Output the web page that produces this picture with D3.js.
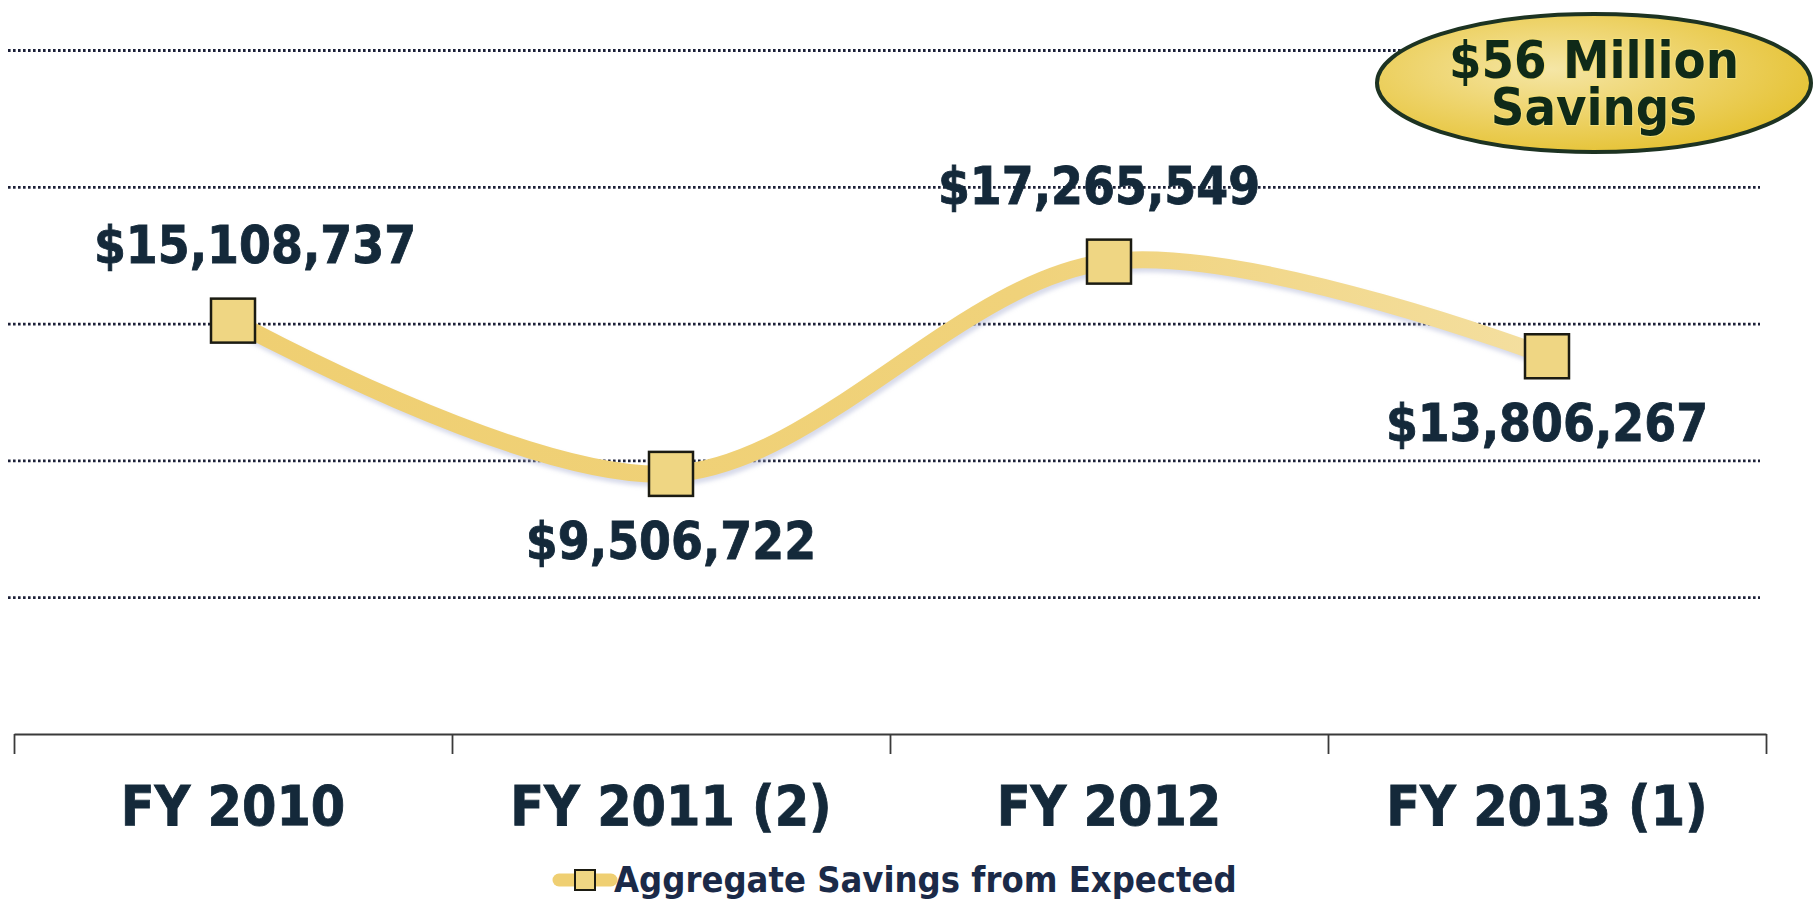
<!DOCTYPE html>
<html>
<head>
<meta charset="utf-8">
<script src="https://cdn.jsdelivr.net/npm/d3@7"></script>
<style>
  body { margin: 0; background: #ffffff; }
  svg text { font-family: "DejaVu Sans Condensed", "DejaVu Sans", sans-serif; font-weight: bold; font-stretch: condensed; }
</style>
</head>
<body>
<div id="chart"></div>
<script>
// data
const categories = ["FY 2010", "FY 2011 (2)", "FY 2012", "FY 2013 (1)"];
const savings = [15108737, 9506722, 17265549, 13806267];
const gridValues = [5000000, 10000000, 15000000, 20000000, 25000000];
const legendLabel = "Aggregate Savings from Expected";
const calloutLines = ["$56 Million", "Savings"];

const W = 1816, H = 904;
const labelColor = "#14293a";
const lineColor = "#efcf72";

const svg = d3
  .select("#chart")
  .append("svg")
  .attr("width", W)
  .attr("height", H);

const defs = svg.append("defs");
defs
  .append("filter")
  .attr("id", "soft")
  .append("feGaussianBlur")
  .attr("stdDeviation", 2);

const lineGrad = defs
  .append("linearGradient")
  .attr("id", "lineGrad")
  .attr("x1", "0%")
  .attr("x2", "100%");
lineGrad.append("stop").attr("offset", "0%").attr("stop-color", "#efcf72");
lineGrad.append("stop").attr("offset", "60%").attr("stop-color", "#f0d27a");
lineGrad.append("stop").attr("offset", "100%").attr("stop-color", "#f4dfa0");

const ovalGrad = defs
  .append("radialGradient")
  .attr("id", "ovalGrad")
  .attr("cx", "40%")
  .attr("cy", "40%")
  .attr("r", "65%");
ovalGrad.append("stop").attr("offset", "0%").attr("stop-color", "#f5e6a6");
ovalGrad.append("stop").attr("offset", "55%").attr("stop-color", "#edd266");
ovalGrad.append("stop").attr("offset", "100%").attr("stop-color", "#e5c233");

// scales
const x = d3.scaleBand().domain(categories).range([14, 1766]).padding(0);
const y = d3.scaleLinear().domain([0, 25000000]).range([734, 50]);
const edge = d3.scaleLinear().domain([0, categories.length]).range([14, 1766]);

// dotted gridlines
const grid = svg
  .append("g")
  .attr("transform", "translate(8,0)")
  .call(d3.axisRight(y).tickValues(gridValues).tickSize(1752).tickFormat(""));
grid.select(".domain").remove();
grid
  .selectAll(".tick line")
  .attr("stroke", "#1c2038")
  .attr("stroke-width", 2.8)
  .attr("stroke-dasharray", "2.6,2.4");

// bottom axis line + ticks at category edges
const axisG = svg
  .append("g")
  .attr("transform", "translate(0," + y(0) + ")")
  .call(
    d3
      .axisBottom(edge)
      .tickValues(d3.range(categories.length + 1))
      .tickSize(20)
      .tickSizeOuter(0)
      .tickFormat("")
  );
axisG.select(".domain").attr("stroke", "#3a3a3a").attr("stroke-width", 1.8);
axisG.selectAll(".tick line").attr("stroke", "#3a3a3a").attr("stroke-width", 1.8);

// category labels
const catG = svg
  .append("g")
  .attr("transform", "translate(0," + y(0) + ")")
  .call(d3.axisBottom(x).tickSize(0).tickPadding(52));
catG.select(".domain").remove();
catG
  .selectAll("text")
  .attr("font-size", 55)
  .attr("fill", labelColor)
  .attr("stroke", labelColor)
  .attr("stroke-width", 0.8)
  .style("font-family", null);

// smoothed line
const cx = (d, i) => x(categories[i]) + x.bandwidth() / 2;
const line = d3
  .line()
  .x(cx)
  .y((d) => y(d))
  .curve(d3.curveCatmullRom.alpha(0.5));

svg
  .append("path")
  .datum(savings)
  .attr("fill", "none")
  .attr("stroke", "#a7aed0")
  .attr("stroke-opacity", 0.45)
  .attr("stroke-width", 17)
  .attr("transform", "translate(2,4)")
  .attr("filter", "url(#soft)")
  .attr("d", line);

svg
  .append("path")
  .datum(savings)
  .attr("fill", "none")
  .attr("stroke", "url(#lineGrad)")
  .attr("stroke-width", 17)
  .attr("d", line);

// markers
const mSize = 44;
svg
  .selectAll("rect.marker")
  .data(savings)
  .enter()
  .append("rect")
  .attr("class", "marker")
  .attr("x", (d, i) => cx(d, i) - mSize / 2)
  .attr("y", (d) => y(d) - mSize / 2)
  .attr("width", mSize)
  .attr("height", mSize)
  .attr("fill", "#efd683")
  .attr("stroke", "#1b1b12")
  .attr("stroke-width", 2.5);

// value labels: above a local high, below a local low
const labelDx = [22, 0, -10, 0];
const isAbove = (d, i) => {
  const nb = [savings[i - 1], savings[i + 1]].filter((v) => v !== undefined);
  return d > d3.mean(nb);
};
svg
  .selectAll("text.value")
  .data(savings)
  .enter()
  .append("text")
  .attr("class", "value")
  .attr("x", (d, i) => cx(d, i) + labelDx[i])
  .attr("y", (d, i) => y(d) + (isAbove(d, i) ? -58 : 85))
  .attr("text-anchor", "middle")
  .attr("font-size", 51)
  .attr("fill", labelColor)
  .attr("stroke", labelColor)
  .attr("stroke-width", 0.8)
  .text((d) => d3.format("$,")(d));

// callout oval
const oval = svg.append("g").attr("transform", "translate(1594,83)");
oval
  .append("ellipse")
  .attr("rx", 217)
  .attr("ry", 69)
  .attr("fill", "url(#ovalGrad)")
  .attr("stroke", "#1d3322")
  .attr("stroke-width", 4);
oval
  .selectAll("text")
  .data(calloutLines)
  .enter()
  .append("text")
  .attr("text-anchor", "middle")
  .attr("y", (d, i) => -5 + i * 47)
  .attr("font-size", 52)
  .attr("fill", "#0f2a18")
  .attr("stroke", "#f4df78")
  .attr("stroke-width", 2)
  .attr("paint-order", "stroke")
  .text((d) => d);

// legend
const leg = svg.append("g").attr("transform", "translate(559,880)");
leg
  .append("line")
  .attr("x1", 0)
  .attr("x2", 52)
  .attr("stroke", lineColor)
  .attr("stroke-width", 13)
  .attr("stroke-linecap", "round");
leg
  .append("rect")
  .attr("x", 16)
  .attr("y", -10)
  .attr("width", 20)
  .attr("height", 20)
  .attr("fill", "#efd683")
  .attr("stroke", "#1b1b12")
  .attr("stroke-width", 2);
leg
  .append("text")
  .attr("x", 55)
  .attr("y", 12)
  .attr("font-size", 36)
  .attr("fill", "#1b2a48")
  .text(legendLabel);
</script>
</body>
</html>
